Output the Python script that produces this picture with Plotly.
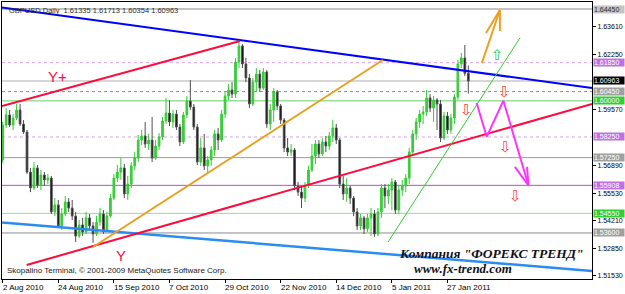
import plotly.graph_objects as go

# ---------------- data ----------------
opens = [1.5714,1.5883,1.5932,1.5883,1.5917,1.5956,1.5888,1.5849,1.5655,1.5578,
         1.5675,1.5592,1.5641,1.5617,1.5626,1.5462,1.5496,1.5394,1.5452,1.5510,
         1.5481,1.5442,1.5345,1.5399,1.5365,1.5433,1.5394,1.5355,1.5413,1.5452,
         1.5374,1.5442,1.5529,1.5626,1.5655,1.5675,1.5549,1.5597,1.5685,1.5723,
         1.5810,1.5830,1.5791,1.5810,1.5723,1.5781,1.5825,1.5903,1.5941,1.5898,
         1.5936,1.5873,1.5801,1.5932,1.5999,1.5970,1.5873,1.5704,1.5772,1.5685,
         1.5714,1.5762,1.5840,1.5810,1.5936,1.6024,1.6053,1.6033,1.6188,1.6266,
         1.6179,1.6111,1.5985,1.6091,1.6130,1.6062,1.6140,1.5888,1.5956,1.6043,
         1.5975,1.5907,1.5772,1.5752,1.5762,1.5588,1.5558,1.5529,1.5588,1.5665,
         1.5733,1.5791,1.5743,1.5801,1.5781,1.5830,1.5869,1.5810,1.5597,1.5549,
         1.5578,1.5529,1.5462,1.5394,1.5433,1.5380,1.5433,1.5452,1.5355,1.5462,
         1.5578,1.5539,1.5568,1.5607,1.5471,1.5568,1.5588,1.5626,1.5752,1.5840,
         1.5898,1.5936,1.5946,1.6014,1.5965,1.6004,1.5985,1.5820,1.5927,1.5859,
         1.5917,1.6019,1.6179,1.6208,1.61335]
highs = [1.5898,1.5965,1.5956,1.5936,1.5985,1.5985,1.5907,1.5859,1.5675,1.5704,
         1.5689,1.5665,1.5655,1.5646,1.5636,1.5529,1.5520,1.5481,1.5539,1.5529,
         1.5520,1.5462,1.5423,1.5433,1.5462,1.5452,1.5413,1.5442,1.5481,1.5471,
         1.5462,1.5549,1.5646,1.5689,1.5723,1.5694,1.5636,1.5704,1.5752,1.5835,
         1.5859,1.5898,1.5840,1.5922,1.5810,1.5844,1.5922,1.6014,1.6004,1.5956,
         1.5956,1.5888,1.5946,1.6024,1.6101,1.5985,1.5888,1.5820,1.5840,1.5733,
         1.5781,1.5859,1.5869,1.5956,1.6043,1.6082,1.6091,1.6208,1.6285,1.6275,
         1.6208,1.6130,1.6111,1.6159,1.6150,1.6159,1.6150,1.5985,1.6062,1.6053,
         1.5985,1.5917,1.5820,1.5791,1.5772,1.5607,1.5588,1.5607,1.5685,1.5791,
         1.5810,1.5810,1.5820,1.5830,1.5849,1.5907,1.5888,1.5820,1.5636,1.5626,
         1.5588,1.5539,1.5481,1.5452,1.5442,1.5452,1.5481,1.5471,1.5481,1.5597,
         1.5597,1.5597,1.5626,1.5617,1.5588,1.5617,1.5646,1.5772,1.5859,1.5917,
         1.5956,1.5975,1.6053,1.6033,1.6024,1.6014,1.6004,1.5946,1.5946,1.5936,
         1.6033,1.6198,1.6232,1.6271,1.61713]
lows = [1.5699,1.5869,1.5873,1.5859,1.5907,1.5878,1.5840,1.5646,1.5558,1.5568,
        1.5578,1.5568,1.5588,1.5597,1.5452,1.5442,1.5384,1.5374,1.5442,1.5462,
        1.5423,1.5316,1.5336,1.5345,1.5355,1.5374,1.5312,1.5345,1.5394,1.5355,
        1.5365,1.5433,1.5520,1.5607,1.5617,1.5529,1.5520,1.5578,1.5665,1.5704,
        1.5786,1.5772,1.5762,1.5704,1.5714,1.5762,1.5810,1.5888,1.5878,1.5869,
        1.5859,1.5781,1.5791,1.5917,1.5956,1.5859,1.5689,1.5685,1.5665,1.5651,
        1.5685,1.5733,1.5762,1.5801,1.5917,1.6004,1.6014,1.6014,1.6159,1.6159,
        1.6091,1.5965,1.5975,1.6043,1.6043,1.6053,1.5869,1.5859,1.5898,1.5956,
        1.5888,1.5752,1.5733,1.5733,1.5568,1.5539,1.5481,1.5510,1.5578,1.5655,
        1.5694,1.5723,1.5733,1.5752,1.5762,1.5801,1.5791,1.5578,1.5520,1.5510,
        1.5500,1.5442,1.5374,1.5374,1.5355,1.5365,1.5345,1.5341,1.5345,1.5433,
        1.5481,1.5500,1.5471,1.5452,1.5452,1.5539,1.5558,1.5597,1.5743,1.5810,
        1.5869,1.5888,1.5927,1.5946,1.5898,1.5859,1.5801,1.5810,1.5840,1.5840,
        1.5888,1.6004,1.6159,1.6120,1.60354]
closes = [1.5883,1.5932,1.5883,1.5917,1.5956,1.5888,1.5849,1.5655,1.5578,1.5675,
          1.5592,1.5641,1.5617,1.5626,1.5462,1.5496,1.5394,1.5452,1.5510,1.5481,
          1.5442,1.5345,1.5399,1.5365,1.5433,1.5394,1.5355,1.5413,1.5452,1.5374,
          1.5442,1.5529,1.5626,1.5655,1.5675,1.5549,1.5597,1.5685,1.5723,1.5810,
          1.5830,1.5791,1.5810,1.5723,1.5781,1.5825,1.5903,1.5941,1.5898,1.5936,
          1.5873,1.5801,1.5932,1.5999,1.5970,1.5873,1.5704,1.5772,1.5685,1.5714,
          1.5762,1.5840,1.5810,1.5936,1.6024,1.6053,1.6033,1.6188,1.6266,1.6179,
          1.6111,1.5985,1.6091,1.6130,1.6062,1.6140,1.5888,1.5956,1.6043,1.5975,
          1.5907,1.5772,1.5752,1.5762,1.5588,1.5558,1.5529,1.5588,1.5665,1.5733,
          1.5791,1.5743,1.5801,1.5781,1.5830,1.5869,1.5810,1.5597,1.5549,1.5578,
          1.5529,1.5462,1.5394,1.5433,1.5380,1.5433,1.5452,1.5355,1.5462,1.5578,
          1.5539,1.5568,1.5607,1.5471,1.5568,1.5588,1.5626,1.5752,1.5840,1.5898,
          1.5936,1.5946,1.6014,1.5965,1.6004,1.5985,1.5820,1.5927,1.5859,1.5917,
          1.6019,1.6179,1.6208,1.61335,1.60963]
bar_index = list(range(len(closes)))

date_tick_index = [0, 16, 32, 48, 64, 80, 96, 112, 128]
date_tick_labels = ["2 Aug 2010", "24 Aug 2010", "15 Sep 2010", "7 Oct 2010", "29 Oct 2010",
                    "22 Nov 2010", "14 Dec 2010", "5 Jan 2011", "27 Jan 2011"]

price_tick_values = [1.63610, 1.62250, 1.59570, 1.56890, 1.55530, 1.54210, 1.52850, 1.51530]
price_tick_labels = ["1.63610", "1.62250", "1.59570", "1.56890", "1.55530", "1.54210", "1.52850", "1.51530"]

# horizontal levels
level_values = [1.64450, 1.61850, 1.60963, 1.60450, 1.60000, 1.58250, 1.57250, 1.55908, 1.54550, 1.53600]
level_labels = ["1.64450", "1.61850", "1.60963", "1.60450", "1.60000", "1.58250", "1.57250", "1.55908", "1.54550", "1.53600"]
level_line_colors = ["#c4c4c4", "#d8a0e8", "#b0b0b0", "#8c8c8c", "#66d066", "#d8a0e8", "#a89890", "#b050d0", "#90e090", "#8c8c8c"]
level_dash = ["solid", "dot", "solid", "dot", "solid", "dot", "solid", "solid", "solid", "solid"]
level_width = [2, 1, 1, 1, 1, 1, 1, 1, 1, 1]
level_box_colors = ["#c4c4c4", "#c070e0", "#000000", "#a0a0a0", "#33cc33", "#c070e0", "#a0a0a0", "#c070e0", "#33cc33", "#a0a0a0"]
level_text_colors = ["#303030", "white", "white", "white", "white", "white", "white", "white", "white", "white"]

# trend lines (bar index, price)
blue_x, blue_y = [-0.2, 169.6], [1.6452, 1.6062]
red_upper_x, red_upper_y = [-0.2, 68.3], [1.5975, 1.6290]
red_lower_x, red_lower_y = [6.9, 169.6], [1.5205, 1.5985]
orange_x, orange_y = [26.0, 109.4], [1.5292, 1.6198]
lightblue_x, lightblue_y = [-0.2, 169.6], [1.5411, 1.5176]
green_x, green_y = [110.9, 148.9], [1.5316, 1.6306]
orange_arrow_x = [137.9, 143.1, None, 139.1, 143.1, None, 143.1, 143.1]
orange_arrow_y = [1.6183, 1.6440, None, 1.6329, 1.6440, None, 1.6338, 1.6440]
magenta_x = [136.4, 139.3, 144.1, 151.3, None, 147.4, 151.3, None, 150.9, 151.3]
magenta_y = [1.5990, 1.5826, 1.6001, 1.5591, None, 1.5680, 1.5591, None, 1.5680, 1.5591]

up_arrow_x, up_arrow_y = [142.3], [1.6222]
down_arrow_x = [144.5, 133.6, 144.8, 147.7]
down_arrow_y = [1.6043, 1.5956, 1.5776, 1.5539]

FONT = "Liberation Sans"

fig = go.Figure()

fig.add_trace(go.Candlestick(
    x=bar_index, open=opens, high=highs, low=lows, close=closes,
    increasing=dict(line=dict(color="#33cc33", width=1), fillcolor="#44cc44"),
    decreasing=dict(line=dict(color="#505050", width=1), fillcolor="#140814"),
    whiskerwidth=0, showlegend=False, hoverinfo="skip"))

def line(x, y, color, width):
    fig.add_trace(go.Scatter(x=x, y=y, mode="lines", line=dict(color=color, width=width),
                             showlegend=False, hoverinfo="skip"))

line(lightblue_x, lightblue_y, "#2a8cf0", 2.5)
line(blue_x, blue_y, "#0000ff", 2)
line(red_upper_x, red_upper_y, "#ff0a3c", 2)
line(red_lower_x, red_lower_y, "#ff0a3c", 2)
line(orange_x, orange_y, "#e8a020", 2)
line(green_x, green_y, "#33cc33", 1)
line(orange_arrow_x, orange_arrow_y, "#f0a020", 2)
line(magenta_x, magenta_y, "#ff33ff", 2)

shapes = []
for v, c, d, w in zip(level_values, level_line_colors, level_dash, level_width):
    shapes.append(dict(type="line", xref="paper", x0=0, x1=1, yref="y", y0=v, y1=v,
                       line=dict(color=c, width=w, dash=d), layer="below"))

ann = []
for v, lab, bc, tc in zip(level_values, level_labels, level_box_colors, level_text_colors):
    ann.append(dict(xref="paper", x=1, xanchor="left", xshift=1, yref="y", y=v, yanchor="middle",
                    text=lab, showarrow=False, bgcolor=bc, font=dict(family=FONT, size=7, color=tc),
                    width=30, height=7, align="left", borderpad=0))

for i, lab in zip(date_tick_index, date_tick_labels):
    ann.append(dict(xref="x", x=i, xanchor="left", xshift=-2, yref="paper", y=0, yanchor="top",
                    yshift=-2, text=lab, showarrow=False, font=dict(family=FONT, size=8, color="#000000")))

for x, y in zip(up_arrow_x, up_arrow_y):
    ann.append(dict(xref="x", x=x, yref="y", y=y, text="⇧", showarrow=False,
                    font=dict(family="DejaVu Sans", size=15, color="#33cc33")))
for x, y in zip(down_arrow_x, down_arrow_y):
    ann.append(dict(xref="x", x=x, yref="y", y=y, text="⇩", showarrow=False,
                    font=dict(family="DejaVu Sans", size=15, color="#ff4444")))

ann += [
    dict(xref="paper", x=0, xshift=5, yref="paper", y=1, yanchor="top", yshift=-2, xanchor="left",
         text="GBPUSD,Daily  1.61335 1.61713 1.60354 1.60963", showarrow=False,
         font=dict(family=FONT, size=7.5, color="#303030")),
    dict(xref="x", x=15.8, yref="y", y=1.6118, text="Y+", showarrow=False,
         font=dict(family=FONT, size=15, color="#ff0a3c")),
    dict(xref="x", x=34.0, yref="y", y=1.5253, text="Y", showarrow=False,
         font=dict(family=FONT, size=15, color="#ff0a3c")),
    dict(xref="paper", x=0, xshift=3, xanchor="left", yref="paper", y=0.029, yanchor="middle",
         text="Skopalino Terminal, © 2001-2009 MetaQuotes Software Corp.", showarrow=False,
         font=dict(family=FONT, size=8, color="#202020")),
    dict(xref="paper", x=0.988, xanchor="right", yref="paper", y=0.0903, yanchor="middle",
         text="<b><i>Компания \"ФОРЕКС ТРЕНД\"</i></b>", showarrow=False,
         font=dict(family="Liberation Serif", size=13.5, color="#101018")),
    dict(xref="paper", x=0.695, xanchor="left", yref="paper", y=0.0397, yanchor="middle",
         text="<b><i>www.fx-trend.com</i></b>", showarrow=False,
         font=dict(family="Liberation Serif", size=13, color="#101018")),
]

fig.update_layout(
    width=625, height=294,
    margin=dict(l=2, r=33, t=2, b=15),
    paper_bgcolor="white", plot_bgcolor="white",
    showlegend=False,
    shapes=shapes, annotations=ann,
    xaxis=dict(range=[-0.2, 169.6], rangeslider=dict(visible=False), showgrid=False, zeroline=False,
               tickmode="array", tickvals=date_tick_index, ticktext=[""] * len(date_tick_index),
               ticks="outside", ticklen=3, tickcolor="#000", showline=True, linecolor="#000",
               linewidth=1, mirror=True, fixedrange=True),
    yaxis=dict(range=[1.5137, 1.6479], side="right", showgrid=False, zeroline=False,
               tickmode="array", tickvals=price_tick_values, ticktext=price_tick_labels,
               ticks="outside", ticklen=3, tickcolor="#000", showline=True, linecolor="#000",
               linewidth=1, mirror=True, tickfont=dict(family=FONT, size=7, color="#000"),
               fixedrange=True),
)

fig.write_html("out.html")
